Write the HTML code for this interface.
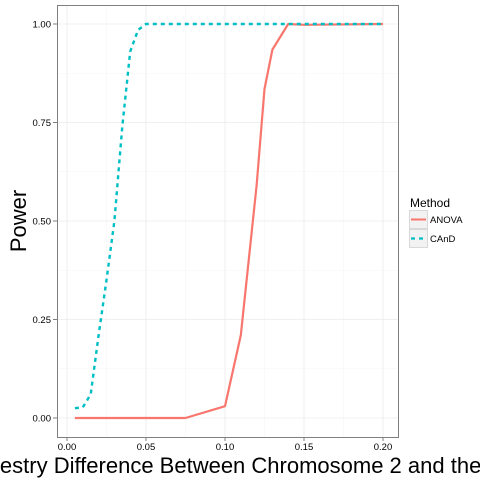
<!DOCTYPE html>
<html><head><meta charset="utf-8"><style>
body{margin:0;background:#fff;}
svg{display:block;font-family:"Liberation Sans",sans-serif;}
</style></head><body>
<svg id="chart" width="480" height="480">
<rect x="0" y="0" width="480" height="480" fill="#fff"/>
<g id="grid"></g>
<g id="series"></g>
<rect x="57.5" y="5.5" width="341" height="432" fill="none" stroke="#7f7f7f" stroke-width="1"/>
<g id="axes"></g>
<text x="26" y="221" transform="rotate(-90 26 221)" text-anchor="middle" font-size="22" fill="#000">Power</text>
<text x="-38" y="473" font-size="22" fill="#000">Ancestry Difference Between Chromosome 2 and the Rest of the Genome</text>
<g>
<text x="410" y="207" font-size="12" fill="#000">Method</text>
<rect x="409.5" y="210.5" width="18" height="18" fill="#f2f2f2" stroke="#d9d9d9"/>
<line x1="411" y1="219.5" x2="426" y2="219.5" stroke="#F8766D" stroke-width="2"/>
<text x="430" y="223" font-size="9.5" fill="#000">ANOVA</text>
<rect x="409.5" y="229.5" width="18" height="18" fill="#f2f2f2" stroke="#d9d9d9"/>
<line x1="411" y1="238.5" x2="426" y2="238.5" stroke="#00BFC4" stroke-width="2.2" stroke-dasharray="4,4"/>
<text x="430" y="242" font-size="9.5" fill="#000">CAnD</text>
</g>
</svg>
<script>
const anovaX=[0.005,0.075,0.1,0.11,0.12,0.125,0.13,0.14,0.15,0.2];
const anovaY=[0,0,0.03,0.21,0.59,0.835,0.935,1.0,0.998,1.0];
const candX=[0.005,0.01,0.015,0.02,0.025,0.03,0.035,0.04,0.045,0.05,0.1,0.15,0.2];
const candY=[0.025,0.027,0.06,0.21,0.35,0.5,0.74,0.93,0.985,1.0,1.0,1.0,1.0];
const xTicks=[0,0.05,0.1,0.15,0.2];
const xTickLabels=["0.00","0.05","0.10","0.15","0.20"];
const yTicks=[0,0.25,0.5,0.75,1];
const yTickLabels=["0.00","0.25","0.50","0.75","1.00"];
const NS="http://www.w3.org/2000/svg";
function sx(v){return 67+v*1580;}
function sy(v){return 418-v*394;}
function mk(t,a,p){const e=document.createElementNS(NS,t);for(const k in a)e.setAttribute(k,a[k]);p.appendChild(e);return e;}
const grid=document.getElementById('grid'),axes=document.getElementById('axes'),series=document.getElementById('series');
for(let i=0;i<xTicks.length;i++){
  const x=sx(xTicks[i]);
  const g=mk('line',{x1:x,x2:x,y1:5,y2:437,stroke:'#ebebeb','stroke-width':0.8},grid);
  
  
  if(i<xTicks.length-1){const m=sx((xTicks[i]+xTicks[i+1])/2);
    const mg=mk('line',{x1:m,x2:m,y1:5,y2:437,stroke:'#f5f5f5','stroke-width':0.6},grid);
    
    }
  const t=mk('line',{x1:x,x2:x,y1:437,y2:441,stroke:'#7f7f7f'},axes);
  
  
  const l=mk('text',{x:x,y:450,'text-anchor':'middle','font-size':9.5,fill:'#000'},axes);
  l.textContent=xTickLabels[i];
  
  
}
for(let i=0;i<yTicks.length;i++){
  const y=sy(yTicks[i]);
  const g=mk('line',{x1:57,x2:398,y1:y,y2:y,stroke:'#ebebeb','stroke-width':0.8},grid);
  
  
  if(i<yTicks.length-1){const m=sy((yTicks[i]+yTicks[i+1])/2);
    const mg=mk('line',{x1:57,x2:398,y1:m,y2:m,stroke:'#f5f5f5','stroke-width':0.6},grid);
    
    }
  const t=mk('line',{x1:53,x2:57,y1:y,y2:y,stroke:'#7f7f7f'},axes);
  
  
  const l=mk('text',{x:51,y:y+3.5,'text-anchor':'end','font-size':9.5,fill:'#000'},axes);
  l.textContent=yTickLabels[i];
  
  
}
function pts(xs,ys){return xs.map((v,i)=>sx(v)+','+sy(ys[i])).join(' ');}
const a=mk('polyline',{points:pts(anovaX,anovaY),fill:'none',stroke:'#F8766D','stroke-width':2.2,'stroke-linejoin':'round'},series);


const c=mk('polyline',{points:pts(candX,candY),fill:'none',stroke:'#00BFC4','stroke-width':2.4,'stroke-dasharray':'4,4'},series);


</script>
</body></html>
